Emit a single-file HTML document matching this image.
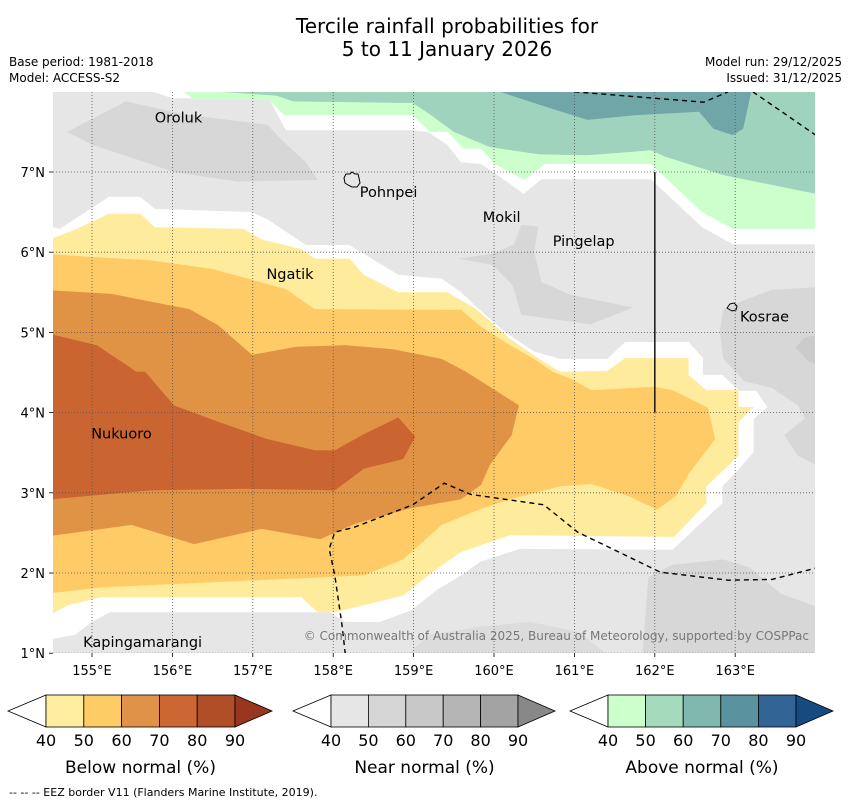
<!DOCTYPE html>
<html><head><meta charset="utf-8">
<style>
html,body{margin:0;padding:0;background:#fff;}
body{width:850px;height:804px;overflow:hidden;font-family:"DejaVu Sans","Liberation Sans",sans-serif;}
svg text{font-family:"DejaVu Sans","Liberation Sans",sans-serif;}
</style></head>
<body>
<svg id="chart" width="850" height="804" viewBox="0 0 850 804" xmlns="http://www.w3.org/2000/svg">
<defs><clipPath id="mapclip"><rect x="53" y="92" width="762" height="561"/></clipPath></defs>
<text x="447" y="33" font-size="20" text-anchor="middle">Tercile rainfall probabilities for</text>
<text x="447" y="56" font-size="20" text-anchor="middle">5 to 11 January 2026</text>
<text x="9" y="66" font-size="12">Base period: 1981-2018</text>
<text x="9" y="82" font-size="12">Model: ACCESS-S2</text>
<text x="842" y="66" font-size="12" text-anchor="end">Model run: 29/12/2025</text>
<text x="842" y="82" font-size="12" text-anchor="end">Issued: 31/12/2025</text>
<g id="map" clip-path="url(#mapclip)"></g>
<g id="overlay"></g>
<g id="legend"></g>
<text x="9" y="796" font-size="11">--  --  -- EEZ border V11 (Flanders Marine Institute, 2019).</text>
</svg>
<script>
// axis data
const lonTicks = [155,156,157,158,159,160,161,162,163];
const latTicks = [1,2,3,4,5,6,7];
const lonMin = 154.5, lonMax = 164, latMin = 1, latMax = 8;
// contour polygons [lon,lat]
const northWhite = [[155.76,8],[156.0,7.92],[157.2,7.92],[157.41,7.52],[158.99,7.52],[159.17,7.5],[159.42,7.34],[159.59,7.12],[159.84,7.1],[159.99,7.0],[160.37,6.73],[160.59,6.91],[161.95,6.91],[162.59,6.31],[162.97,6.1],[164.1,6.1],[164.1,8.1]];
const northGreen = [[156.14,8],[156.27,7.9],[157.2,7.9],[157.39,7.71],[158.99,7.71],[159.2,7.5],[159.42,7.5],[159.63,7.29],[159.84,7.29],[160.01,7.1],[160.38,6.9],[160.63,7.1],[161.95,7.1],[162.59,6.5],[162.97,6.29],[164.1,6.29],[164.1,8.1]];
const northMidGreen = [[156.6,8],[157.3,7.95],[157.5,7.88],[158.99,7.86],[159.23,7.7],[159.5,7.5],[159.95,7.31],[160.56,7.22],[161.16,7.21],[161.95,7.27],[162.13,7.19],[162.86,6.96],[164.1,6.71],[164.1,8.1]];
const northTeal = [[159.77,8.1],[160.56,7.84],[161.16,7.65],[161.77,7.71],[162.55,7.75],[162.73,7.54],[162.97,7.46],[163.1,7.54],[163.22,8.1]];
const greyOroluk = [[154.69,7.5],[155.42,7.88],[156.14,7.72],[157.18,7.59],[157.35,7.41],[157.66,7.12],[157.81,6.9],[156.81,6.88],[156.02,7.0],[155.55,7.16],[155.0,7.34]];
const greyMokil = [[160.34,6.34],[160.55,6.32],[160.5,6.0],[160.59,5.63],[160.95,5.47],[161.73,5.31],[161.2,5.1],[160.34,5.22],[160.23,5.59],[159.98,5.84],[159.56,5.92],[159.98,5.98],[160.25,6.1]];
const greyKosrae = [[162.85,5.28],[163.11,5.4],[163.45,5.53],[164.1,5.57],[164.1,3.3],[163.78,3.46],[163.61,3.72],[163.87,3.93],[163.78,4.09],[163.45,4.31],[163.11,4.39],[162.85,4.68],[162.81,5.02]];
const greyKosraeDark = [[163.75,4.81],[163.87,4.94],[164.1,4.98],[164.1,4.56],[163.91,4.64]];
const greyBottomRight = [[161.84,0.9],[161.92,1.95],[162.21,2.1],[162.85,2.17],[163.18,2.07],[163.57,1.74],[164.1,1.55],[164.1,0.9]];
const greyBottomMid = [[158.83,0.9],[159.2,1.23],[159.83,1.33],[160.45,1.39],[161.07,1.26],[161.5,0.9]];
const southWhite = [[154.4,6.34],[154.6,6.29],[155.21,6.69],[155.6,6.69],[155.78,6.54],[156.99,6.5],[157.18,6.41],[157.66,6.09],[158.2,6.09],[158.38,5.98],[158.81,5.72],[159.35,5.67],[159.59,5.5],[159.78,5.32],[160.14,5.0],[160.5,4.76],[160.82,4.67],[161.41,4.67],[161.63,4.88],[162.42,4.88],[162.6,4.68],[162.6,4.47],[162.84,4.47],[163.05,4.27],[163.26,4.27],[163.4,4.07],[163.23,3.92],[163.23,3.51],[163.05,3.3],[162.84,3.08],[162.84,2.87],[162.22,2.29],[160.32,2.3],[159.83,2.14],[159.59,1.97],[159.29,1.79],[158.98,1.54],[158.58,1.39],[158.15,1.39],[157.96,1.51],[157.6,1.51],[155.22,1.51],[155.0,1.39],[154.79,1.23],[154.4,1.16]];
const southYellow = [[154.4,6.13],[154.81,6.29],[155.21,6.48],[155.6,6.48],[155.78,6.31],[156.88,6.29],[157.11,6.16],[157.6,6.04],[157.77,5.92],[158.2,5.92],[158.38,5.72],[158.81,5.5],[159.42,5.5],[159.78,5.29],[160.2,4.92],[160.56,4.67],[160.82,4.51],[161.41,4.52],[161.63,4.68],[162.42,4.68],[162.42,4.47],[162.64,4.28],[163.04,4.28],[163.04,4.07],[163.23,4.07],[163.04,3.88],[163.04,3.46],[162.64,3.08],[162.64,2.87],[162.24,2.45],[160.2,2.47],[159.59,2.26],[159.23,2.01],[158.87,1.72],[158.02,1.51],[157.81,1.51],[157.6,1.7],[155.12,1.7],[154.7,1.6],[154.4,1.43]];
const southOrange = [[154.4,5.98],[155,5.94],[155.72,5.9],[156.5,5.79],[157.41,5.54],[157.77,5.29],[159.59,5.28],[159.84,5.07],[160.2,4.84],[160.5,4.67],[160.73,4.51],[160.98,4.41],[161.21,4.28],[162.0,4.32],[162.22,4.28],[162.66,4.06],[162.75,3.67],[162.43,3.25],[162.26,2.96],[162.03,2.79],[161.67,2.96],[161.21,3.11],[160.82,3.08],[160.2,2.92],[159.84,2.8],[159.35,2.6],[158.87,2.17],[158.38,1.97],[157.05,1.91],[155.12,1.82],[154.4,1.74]];
const southDarkOrange = [[154.4,5.53],[155.24,5.48],[156.21,5.29],[156.57,5.09],[156.99,4.72],[157.54,4.82],[158.15,4.84],[158.74,4.79],[159.35,4.67],[159.65,4.51],[159.95,4.32],[160.31,4.09],[160.22,3.72],[159.95,3.35],[159.84,3.1],[159.59,2.92],[158.93,2.8],[158.26,2.61],[157.84,2.42],[157.11,2.55],[156.27,2.36],[155.49,2.6],[154.4,2.45]];
const southRed = [[154.4,5.0],[155.06,4.84],[155.55,4.51],[155.66,4.51],[156.02,4.09],[156.5,3.91],[157.18,3.67],[157.77,3.53],[158.02,3.53],[158.38,3.73],[158.81,3.94],[159.02,3.7],[158.87,3.42],[158.38,3.3],[158.02,3.03],[156.93,3.05],[155.72,3.03],[154.4,2.91]];
const eezTopA = [[161.0,8.0],[162.61,7.87],[162.91,8.0]];
const eezTopB = [[163.22,8.0],[164.0,7.46]];
const eezBottom = [[158.15,0.99],[158.11,1.35],[158.02,1.97],[157.95,2.3],[158.02,2.51],[158.26,2.57],[158.99,2.85],[159.38,3.12],[159.71,2.98],[160.62,2.85],[161.04,2.51],[162.07,2.01],[162.91,1.91],[163.46,1.92],[164.0,2.06]];
const islandNames = ["Oroluk","Pohnpei","Mokil","Pingelap","Ngatik","Kosrae","Nukuoro","Kapingamarangi"];
const islandLon = [155.78,158.33,159.86,160.73,157.17,163.06,154.99,154.89];
const islandLat = [7.68,6.75,6.44,6.14,5.73,5.2,3.74,1.14];
// legend data
const legendTicks = [40,50,60,70,80,90];
const legendTitles = ["Below normal (%)","Near normal (%)","Above normal (%)"];
const legendColors = [
 ["#ffeda0","#fecc65","#e09348","#cc6633","#b04e27","#99361f"],
 ["#e6e6e6","#d5d5d5","#c8c8c8","#b5b5b5","#a3a3a3","#888888"],
 ["#ccffcc","#a5dabd","#80b7ae","#5a92a0","#326596","#154b80"]];

const NS="http://www.w3.org/2000/svg";
function X(lon){return 92+(lon-155)*80.4;}
function Y(lat){return 172-(lat-7)*80.2;}
function mk(tag,attrs,parent){const e=document.createElementNS(NS,tag);for(const k in attrs)e.setAttribute(k,attrs[k]);parent.appendChild(e);return e;}
function pts(arr){return arr.map(p=>X(p[0]).toFixed(1)+","+Y(p[1]).toFixed(1)).join(" ");}
const map=document.getElementById('map'), ov=document.getElementById('overlay'), lg=document.getElementById('legend');
let bg=mk('rect',{x:53,y:92,width:762,height:561,fill:'#e6e6e6'},map);


const layers=[
 ['grey-patch-oroluk',greyOroluk,'#d7d7d7'],['grey-patch-mokil',greyMokil,'#d7d7d7'],['grey-patch-kosrae',greyKosrae,'#d7d7d7'],
 ['grey-patch-kosrae-dark',greyKosraeDark,'#cbcbcb'],['grey-patch-bottom-right',greyBottomRight,'#d7d7d7'],['grey-patch-bottom-mid',greyBottomMid,'#dcdcdc'],
 ['north-no-signal-band',northWhite,'#ffffff'],['above-normal-40',northGreen,'#ccffcc'],['above-normal-50',northMidGreen,'#9fd3bd'],['above-normal-60',northTeal,'#70a6a8'],
 ['south-no-signal-band',southWhite,'#ffffff'],['below-normal-40',southYellow,'#ffeb9c'],['below-normal-50',southOrange,'#fecb66'],['below-normal-60',southDarkOrange,'#e09245'],['below-normal-70',southRed,'#ca6430']];
layers.forEach(l=>{const p=mk('polygon',{points:pts(l[1]),fill:l[2]},map);
 
 });
lonTicks.forEach(v=>{const g=mk('line',{x1:X(v),x2:X(v),y1:92,y2:653,stroke:'#555',"stroke-width":0.8,"stroke-dasharray":"1,2"},map);
 
 });
latTicks.forEach(v=>{const g=mk('line',{x1:53,x2:815,y1:Y(v),y2:Y(v),stroke:'#555',"stroke-width":0.8,"stroke-dasharray":"1,2"},map);
 
 });
[eezTopA,eezTopB,eezBottom].forEach(a=>{const e=mk('polyline',{points:pts(a),fill:'none',stroke:'#000',"stroke-width":1.4,"stroke-dasharray":"5,4"},map);
 
 });
let vl=mk('line',{x1:X(162),x2:X(162),y1:Y(7),y2:Y(4),stroke:'#222',"stroke-width":1.6},map);


let pohn=mk('path',{d:"M344,178 l2,-4 l4,0 l2,-2 l3,2 l3,0 l1,4 l1,5 l-3,4 l-5,0 l-4,-2 l-3,-2z",fill:'none',stroke:'#000',"stroke-width":1},map);


let kos=mk('path',{d:"M727,308 l3,-4 l4,-1 l3,3 l-1,4 l-4,1z",fill:'none',stroke:'#000',"stroke-width":1},map);


islandNames.forEach((n,i)=>{const t=mk('text',{x:X(islandLon[i]),y:Y(islandLat[i])+5,"font-size":14.5,fill:'#000'},map);t.textContent=n;
 
 });
let cp=mk('text',{x:809,y:640,"font-size":12,fill:'#777',"text-anchor":"end"},map);
cp.textContent="© Commonwealth of Australia 2025, Bureau of Meteorology, supported by COSPPac";


lonTicks.forEach(v=>{const t=mk('text',{x:X(v),y:675,"font-size":13,"text-anchor":"middle"},ov);t.textContent=v+"°E";
 
 
 const k=mk('line',{x1:X(v),x2:X(v),y1:653,y2:657,stroke:'#000',"stroke-width":0.8},ov);
 
 });
latTicks.forEach(v=>{const t=mk('text',{x:45,y:Y(v)+5,"font-size":13,"text-anchor":"end"},ov);t.textContent=v+"°N";
 
 
 const k=mk('line',{x1:49,x2:53,y1:Y(v),y2:Y(v),stroke:'#000',"stroke-width":0.8},ov);
 
 });
const barLeft=[46,331,608], barW=[189,187,188];
legendColors.forEach((cols,b)=>{
 const x0=barLeft[b], w=barW[b], cw=w/5, top=695, bot=727, mid=711;
 const g=mk('g',{},lg);
 
 
 const lt=mk('polygon',{points:`${x0},${top} ${x0-38},${mid} ${x0},${bot}`,fill:'#fff',stroke:'#000',"stroke-width":0.8},g);
 
 
 cols.forEach((c,i)=>{
  if(i<5){const r=mk('rect',{x:x0+i*cw,y:top,width:cw,height:bot-top,fill:c,stroke:'#000',"stroke-width":0.8},g);
   
   }
  else{const p=mk('polygon',{points:`${x0+w},${top} ${x0+w+37},${mid} ${x0+w},${bot}`,fill:c,stroke:'#000',"stroke-width":0.8},g);
   
   }
 });
 legendTicks.forEach((v,i)=>{const t=mk('text',{x:x0+i*cw,y:746,"font-size":16,"text-anchor":"middle"},g);t.textContent=v;
  
  });
 const tt=mk('text',{x:x0+w/2,y:773,"font-size":17,"text-anchor":"middle"},g);tt.textContent=legendTitles[b];
 
 
});
</script>
</body></html>
